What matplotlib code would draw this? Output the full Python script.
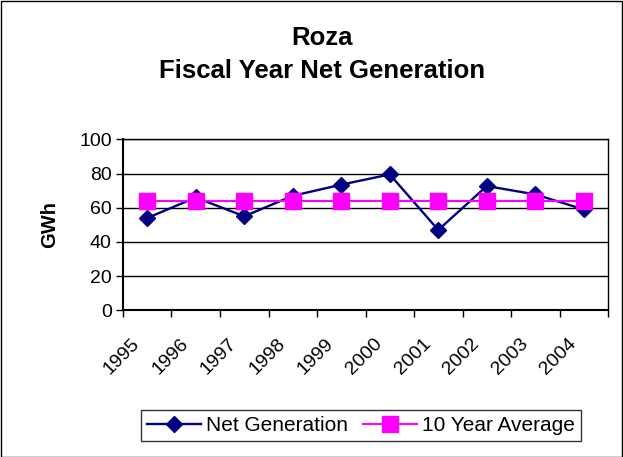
import matplotlib.pyplot as plt
from matplotlib.patches import Rectangle
from matplotlib.transforms import ScaledTranslation

years = ["1995", "1996", "1997", "1998", "1999", "2000", "2001", "2002", "2003", "2004"]
net_generation = [54, 66, 55, 67, 73.5, 79.5, 47, 72.7, 67.8, 59]
ten_year_average = [64.2] * 10

plt.rcParams.update({"font.family": "Liberation Sans", "font.size": 14})

fig = plt.figure(figsize=(6.23, 4.57), dpi=100)
fig.patch.set_facecolor("white")
fig.patches.append(Rectangle((0.001, 0.001), 0.997, 0.997, transform=fig.transFigure,
                             fill=False, edgecolor="black", linewidth=1.0))

ax = fig.add_axes([0.1974, 0.321, 0.7786, 0.374])
x = list(range(len(years)))

ax.plot(x, net_generation, color="#000080", linewidth=1.7, marker="D", markersize=7.7,
        label="Net Generation", zorder=3)
ax.plot(x, ten_year_average, color="#FF00FF", linewidth=1.5, marker="s", markersize=11,
        label="10 Year Average", zorder=4)

ax.set_xlim(-0.5, len(years) - 0.5)
ax.set_ylim(0, 100)
ax.set_yticks([0, 20, 40, 60, 80, 100])
ax.yaxis.grid(True, color="black", linewidth=1.0)
ax.set_axisbelow(True)

# category axis: tick marks between categories, labels centred on them
ax.set_xticks([i - 0.5 for i in range(len(years) + 1)])
ax.set_xticklabels([])
ax.set_xticks(x, minor=True)
ax.set_xticklabels(years, minor=True, rotation=45, ha="right", va="center",
                   rotation_mode="anchor")
ax.tick_params(axis="x", which="minor", length=0, pad=0, labelsize=14)
ax.tick_params(axis="x", which="major", length=5, direction="out", width=1)
ax.tick_params(axis="y", length=5, direction="out", width=1, labelsize=14, pad=3)
shift = ScaledTranslation(-0.10, -0.31, fig.dpi_scale_trans)
for lab in ax.get_xticklabels(minor=True):
    lab.set_transform(lab.get_transform() + shift)

for s in ax.spines.values():
    s.set_color("black")
    s.set_linewidth(1.0)
ax.spines["left"].set_linewidth(1.5)
ax.spines["bottom"].set_linewidth(1.5)

ax.set_ylabel("GWh", fontweight="bold", fontsize=14.5, va="center")
ax.yaxis.set_label_coords(-0.152, 0.5)

fig.text(0.517, 1 - 45 / 457, "Roza", ha="center", va="baseline",
         fontsize=18.5, fontweight="bold")
fig.text(0.517, 1 - 78 / 457, "Fiscal Year Net Generation", ha="center", va="baseline",
         fontsize=18.5, fontweight="bold")

leg = fig.legend(loc="center", bbox_to_anchor=(0.5795, 1 - 425.5 / 457),
                 bbox_transform=fig.transFigure, ncol=2, frameon=True, fancybox=False,
                 edgecolor="black", fontsize=15, handlelength=2.6, handletextpad=0.25,
                 columnspacing=0.7, borderpad=0.3, borderaxespad=0)
leg.get_frame().set_linewidth(1.0)

fig.savefig("out.png", dpi=100, facecolor="white")
